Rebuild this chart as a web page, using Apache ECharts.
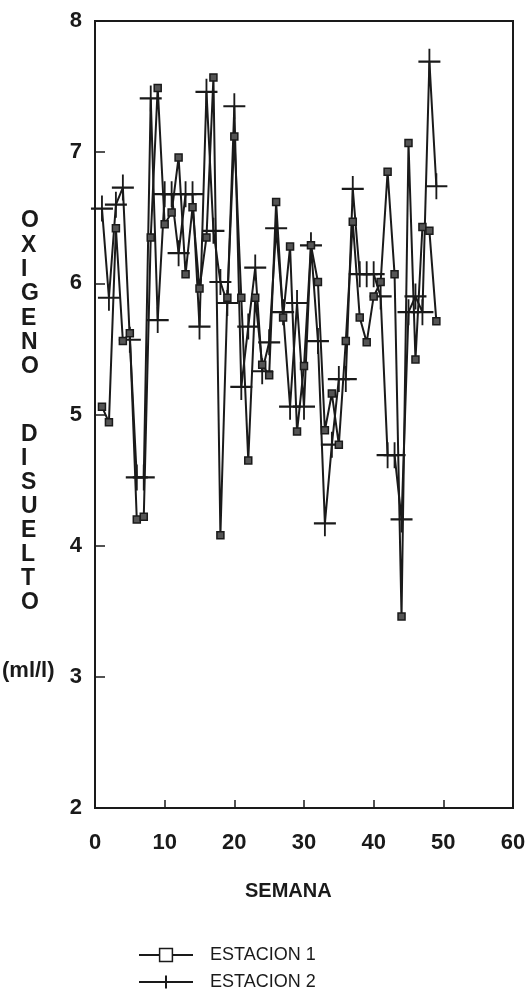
<!DOCTYPE html>
<html>
<head>
<meta charset="utf-8">
<script src="https://cdn.jsdelivr.net/npm/echarts@6/dist/echarts.min.js"></script>
<style>
html,body{margin:0;padding:0;background:#fff;}
#chart{width:530px;height:991px;}
</style>
</head>
<body>
<div id="chart"></div>
<script>
var weeks = [1,2,3,4,5,6,7,8,9,10,11,12,13,14,15,16,17,18,19,20,21,22,23,24,25,26,27,28,29,30,31,32,33,34,35,36,37,38,39,40,41,42,43,44,45,46,47,48,49];
var estacion1 = [5.06,4.94,6.42,5.56,5.62,4.20,4.22,6.35,7.49,6.45,6.54,6.96,6.07,6.58,5.96,6.35,7.57,4.08,5.89,7.12,5.89,4.65,5.89,5.38,5.30,6.62,5.74,6.28,4.87,5.37,6.29,6.01,4.88,5.16,4.77,5.56,6.47,5.74,5.55,5.90,6.01,6.85,6.07,3.46,7.07,5.42,6.43,6.40,5.71];
var estacion2 = [6.57,5.89,6.60,6.73,5.57,4.52,4.52,7.41,5.72,6.68,6.68,6.23,6.68,6.68,5.67,7.46,6.40,6.01,5.85,7.35,5.21,5.67,6.12,5.33,5.55,6.42,5.78,5.06,5.85,5.06,6.29,5.56,4.17,4.77,5.27,5.27,6.72,6.07,6.07,6.07,5.90,4.69,4.69,4.20,5.78,5.90,5.78,7.69,6.74];
var seriesNames = ['ESTACION 1','ESTACION 2'];
var xTicks = [0,10,20,30,40,50,60];
var yTicks = [2,3,4,5,6,7,8];
var xTitle = 'SEMANA';
var yTitleTop = 'O\nX\nI\nG\nE\nN\nO';
var yTitleBottom = 'D\nI\nS\nU\nE\nL\nT\nO';
var yUnit = '(ml/l)';

function pairs(vals){ return weeks.map(function(w,i){ return [w, vals[i]]; }); }

var FONT = '"Liberation Sans", Arial, Helvetica, sans-serif';
var INK = '#1a1a1a';
var plusPath = 'path://M0,13L22,13M11,0L11,26';

var chart = echarts.init(document.getElementById('chart'), null, {renderer:'canvas'});
chart.setOption({
  backgroundColor: '#ffffff',
  animation: false,
  grid: {left: 95, right: 17, top: 21, bottom: 183, show: true, borderColor: INK, borderWidth: 2, backgroundColor: 'transparent'},
  xAxis: {
    type: 'value', min: xTicks[0], max: xTicks[xTicks.length-1], interval: 10,
    axisLine: {show: true, lineStyle: {color: INK, width: 2}},
    axisTick: {show: true, inside: true, length: 8, lineStyle: {color: INK, width: 1.5}},
    axisLabel: {margin: 24, color: INK, fontFamily: FONT, fontWeight: 'bold', fontSize: 22},
    splitLine: {show: false}
  },
  yAxis: {
    type: 'value', min: yTicks[0], max: yTicks[yTicks.length-1], interval: 1,
    axisLine: {show: true, lineStyle: {color: INK, width: 2}},
    axisTick: {show: true, inside: true, length: 10, lineStyle: {color: INK, width: 1.5}},
    axisLabel: {margin: 13, color: INK, fontFamily: FONT, fontWeight: 'bold', fontSize: 22},
    splitLine: {show: false}
  },
  legend: {
    orient: 'vertical', left: 138, top: 946, padding: 0, itemWidth: 54, itemHeight: 16, itemGap: 9,
    data: [
      {name: seriesNames[0], itemStyle: {color: '#ffffff', borderColor: INK, borderWidth: 1.5}},
      {name: seriesNames[1]}
    ],
    textStyle: {color: INK, fontFamily: FONT, fontSize: 18, padding: [0,0,0,12]}
  },
  graphic: [
    {type: 'text', left: 21, top: 209, style: {text: yTitleTop, font: 'bold 23px ' + FONT, fill: INK, lineHeight: 24.3, align: 'center'}},
    {type: 'text', left: 21, top: 423, style: {text: yTitleBottom, font: 'bold 23px ' + FONT, fill: INK, lineHeight: 23.9, align: 'center'}},
    {type: 'text', left: 2, top: 660, style: {text: yUnit, font: 'bold 22px ' + FONT, fill: INK}},
    {type: 'text', left: 245, top: 881, style: {text: xTitle, font: 'bold 20px ' + FONT, fill: INK}}
  ],
  series: [
    {
      name: seriesNames[0], type: 'line', data: pairs(estacion1),
      symbol: 'rect', symbolSize: 7, showAllSymbol: true,
      lineStyle: {color: INK, width: 2},
      itemStyle: {color: '#555', borderColor: INK, borderWidth: 1.5},
      z: 3
    },
    {
      name: seriesNames[1], type: 'line', data: pairs(estacion2),
      symbol: plusPath, symbolSize: [22, 26], showAllSymbol: true,
      lineStyle: {color: INK, width: 2},
      itemStyle: {color: 'transparent', borderColor: INK, borderWidth: 2},
      z: 2
    }
  ]
});
</script>
</body>
</html>
